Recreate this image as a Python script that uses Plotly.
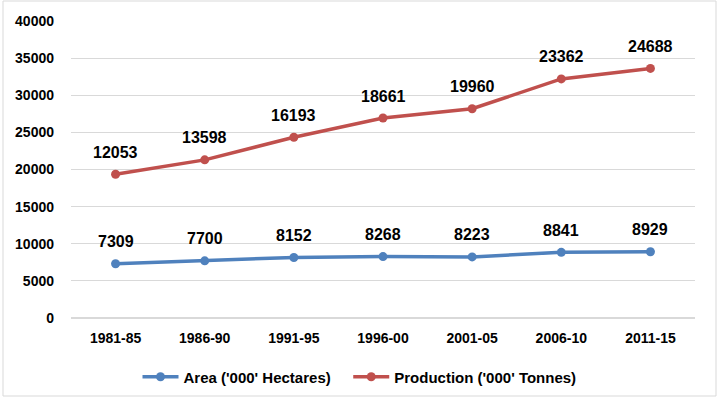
import plotly.graph_objects as go

categories = ["1981-85", "1986-90", "1991-95", "1996-00", "2001-05", "2006-10", "2011-15"]
area = [7309, 7700, 8152, 8268, 8223, 8841, 8929]
production = [12053, 13598, 16193, 18661, 19960, 23362, 24688]
y_ticks = [0, 5000, 10000, 15000, 20000, 25000, 30000, 35000, 40000]

FONT = "Liberation Sans"
BLUE = "#4F81BD"
RED = "#C0504D"
GAP = "\u00a0" * 3

fig = go.Figure()
fig.add_trace(go.Scatter(
    x=categories, y=area, name="Area ('000' Hectares)" + GAP,
    stackgroup="one", fill="none", mode="lines+markers",
    line=dict(color=BLUE, width=3.5), marker=dict(size=9, color=BLUE),
))
fig.add_trace(go.Scatter(
    x=categories, y=production, name="Production ('000' Tonnes)",
    stackgroup="one", fill="none", mode="lines+markers",
    line=dict(color=RED, width=3.5), marker=dict(size=9, color=RED),
))

# data labels: original values, placed above the stacked points
stacked_prod = [a + p for a, p in zip(area, production)]
for cat, a in zip(categories, area):
    fig.add_annotation(x=cat, y=a, text=str(a), showarrow=False, yshift=22,
                       font=dict(family=FONT, size=16, color="#000000", weight="bold"))
for cat, s, p in zip(categories, stacked_prod, production):
    fig.add_annotation(x=cat, y=s, text=str(p), showarrow=False, yshift=22,
                       font=dict(family=FONT, size=16, color="#000000", weight="bold"))

fig.update_layout(
    width=719, height=399,
    margin=dict(l=71, r=24, t=21, b=81, autoexpand=False),
    paper_bgcolor="white", plot_bgcolor="white",
    font=dict(family=FONT, size=14, color="#000000"),
    showlegend=True,
    legend=dict(orientation="h", x=0.5, xanchor="center", xref="container",
                y=1 - 377 / 399, yanchor="middle", yref="container",
                font=dict(family=FONT, size=15, color="#000000", weight="bold"),
                itemwidth=36, traceorder="normal"),
    xaxis=dict(type="category", range=[-0.5, 6.5], showgrid=False, showline=False,
               ticks="", ticklabelstandoff=10,
               tickfont=dict(family=FONT, size=14, weight="bold")),
    yaxis=dict(range=[0, 40000], tickvals=y_ticks, ticktext=[str(v) for v in y_ticks],
               showgrid=True, gridcolor="#D9D9D9",
               gridwidth=1, zeroline=True, zerolinecolor="#D9D9D9", showline=False,
               ticks="", ticklabelstandoff=16,
               tickfont=dict(family=FONT, size=14, weight="bold")),
    shapes=[dict(type="rect", xref="paper", yref="paper", x0=-68/624, x1=(624+21)/624,
                 y0=-78/297, y1=1+20/297, line=dict(color="#D9D9D9", width=1))],
)

fig.write_html("out.html", config={"displayModeBar": False},
               post_script="document.body.style.margin='0';")
